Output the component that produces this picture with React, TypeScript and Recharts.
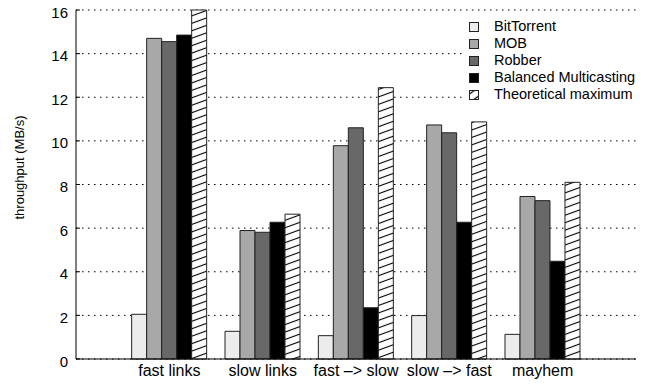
import { BarChart, Bar, XAxis, YAxis, CartesianGrid, Legend, Label } from 'recharts';

const categories = ['fast links', 'slow links', 'fast –> slow', 'slow –> fast', 'mayhem'];
const bitTorrent = [2.05, 1.27, 1.07, 1.99, 1.13];
const mob = [14.7, 5.89, 9.78, 10.73, 7.45];
const robber = [14.55, 5.81, 10.6, 10.37, 7.26];
const balanced = [14.85, 6.27, 2.35, 6.27, 4.48];
const theoretical = [16.0, 6.64, 12.44, 10.87, 8.1];
const yTicks = [0, 2, 4, 6, 8, 10, 12, 14, 16];

const FONT = '"Liberation Sans", Arial, Helvetica, sans-serif';

const series = [
  { key: 'bitTorrent', name: 'BitTorrent', fill: '#ececec' },
  { key: 'mob', name: 'MOB', fill: '#a8a8a8' },
  { key: 'robber', name: 'Robber', fill: '#686868' },
  { key: 'balanced', name: 'Balanced Multicasting', fill: '#000000' },
  { key: 'theoretical', name: 'Theoretical maximum', fill: 'url(#hatch)' },
];

const data = categories.map((name, i) => ({
  name,
  bitTorrent: bitTorrent[i],
  mob: mob[i],
  robber: robber[i],
  balanced: balanced[i],
  theoretical: theoretical[i],
}));

// y tick: label plus a short inward tick mark like gnuplot draws
function YTick(props: any) {
  const { x, y, payload } = props;
  const axisX = x + 8;
  return (
    <g>
      <line x1={axisX} x2={axisX + 4} y1={y} y2={y} stroke="#000" />
      <text x={x} y={y} dy={7.5} textAnchor="end" fontSize={15} fill="#000" fontFamily={FONT}>
        {payload.value}
      </text>
    </g>
  );
}

function YLabel(props: any) {
  const vb = props.viewBox || { x: 0, y: 10, width: 76, height: 349 };
  const cx = vb.x + 19;
  const cy = vb.y + vb.height / 2 - 17;
  return (
    <text
      x={cx}
      y={cy}
      transform={`rotate(-90, ${cx}, ${cy})`}
      textAnchor="middle"
      dominantBaseline="central"
      fontSize={13}
      fill="#000"
      fontFamily={FONT}
    >
      throughput (MB/s)
    </text>
  );
}

function LegendBox() {
  return (
    <div style={{ background: '#fff', paddingLeft: 4, fontFamily: FONT, fontSize: 14.5, color: '#000' }}>
      {series.map((s) => (
        <div key={s.key} style={{ display: 'flex', alignItems: 'center', height: 17 }}>
          <svg width={10} height={10} style={{ display: 'block' }}>
            <defs>
              <pattern id="hatchLegend" patternUnits="userSpaceOnUse" width="8" height="7" patternTransform="rotate(-35)">
                <rect width="8" height="7" fill="#fff" />
                <line x1="0" y1="3.5" x2="8" y2="3.5" stroke="#000" strokeWidth="1.2" />
              </pattern>
            </defs>
            <rect
              x={0.5}
              y={0.5}
              width={9}
              height={9}
              fill={s.key === 'theoretical' ? 'url(#hatchLegend)' : s.fill}
              stroke="#222"
            />
          </svg>
          <span style={{ marginLeft: 15, lineHeight: '17px' }}>{s.name}</span>
        </div>
      ))}
    </div>
  );
}

export default function App() {
  return (
    <div style={{ position: 'absolute', left: 0, top: 0, background: '#fff' }}>
      <BarChart
        width={655}
        height={385}
        data={data}
        margin={{ top: 10, right: 19, bottom: 0, left: 0 }}
        barGap={0}
      >
        <defs>
          <pattern id="hatch" patternUnits="userSpaceOnUse" width="8" height="7" patternTransform="rotate(-20)">
            <rect width="8" height="7" fill="#fff" />
            <line x1="0" y1="3.5" x2="8" y2="3.5" stroke="#000" strokeWidth="1.1" />
          </pattern>
        </defs>
        <CartesianGrid vertical={false} stroke="#000" strokeDasharray="1.5 4.5" />
        <XAxis
          dataKey="name"
          height={26}
          padding={{ left: 46.67, right: 46.67 }}
          axisLine={{ stroke: '#000' }}
          tickLine={false}
          tickSize={0}
          tickMargin={6}
          tick={{ fill: '#000', fontSize: 16, fontFamily: FONT }}
          interval={0}
        />
        <YAxis
          width={76}
          domain={[0, 16]}
          ticks={yTicks}
          axisLine={{ stroke: '#000' }}
          tickLine={false}
          tickSize={0}
          tickMargin={8}
          tick={<YTick />}
          interval={0}
        >
          <Label content={<YLabel />} />
        </YAxis>
        <Legend
          layout="vertical"
          align="center"
          verticalAlign="middle"
          content={<LegendBox />}
          wrapperStyle={{ top: 18, left: 465, right: 'auto', bottom: 'auto', width: 171 }}
        />
        {series.map((s) => (
          <Bar
            key={s.key}
            dataKey={s.key}
            name={s.name}
            fill={s.fill}
            stroke="#222"
            strokeWidth={1}
            barSize={15}
            isAnimationActive={false}
          />
        ))}
      </BarChart>
    </div>
  );
}
